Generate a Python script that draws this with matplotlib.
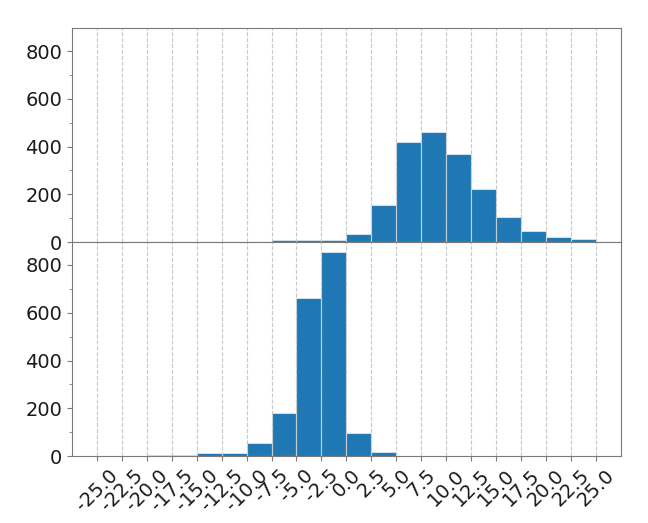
import matplotlib
matplotlib.use("Agg")
import matplotlib.pyplot as plt
import numpy as np
from matplotlib.ticker import MultipleLocator

bin_edges = [-25.0 + 2.5 * i for i in range(21)]
top_counts = [0, 0, 0, 0, 0, 0, 1, 7, 7, 10, 35, 156, 418, 462, 370, 224, 106, 45, 23, 13]
bottom_counts = [0, 0, 4, 3, 14, 13, 56, 180, 660, 853, 96, 17, 0, 0, 0, 0, 0, 0, 0, 0]
tick_values = [-25.0 + 2.5 * i for i in range(21)]
tick_labels = [f"{v:.1f}" for v in tick_values]

fig, (ax1, ax2) = plt.subplots(2, 1, sharex=True, sharey=True, figsize=(6.48, 5.23), dpi=100)
fig.subplots_adjust(left=0.111, right=0.958, top=0.946, bottom=0.128, hspace=0)

centers = [(bin_edges[i] + bin_edges[i + 1]) / 2 for i in range(len(bin_edges) - 1)]
for ax, counts in ((ax1, top_counts), (ax2, bottom_counts)):
    ax.hist(centers, bins=bin_edges, weights=counts, color="#1f77b4",
            edgecolor=(1, 1, 1, 0.55), linewidth=0.8)
    ax.grid(axis="x", linestyle="--", color="#c8c8c8", linewidth=0.8)
    ax.yaxis.set_minor_locator(MultipleLocator(100))
    ax.yaxis.set_major_locator(MultipleLocator(200))
    for s in ax.spines.values():
        s.set_color("#7a7a7a")
    ax.tick_params(colors="#7a7a7a", labelcolor="#1a1a1a", labelsize=14)
    ax.tick_params(which="minor", colors="#7a7a7a")

ax1.tick_params(axis="x", bottom=False, labelbottom=False)
ax2.set_xticks(tick_values)
ax2.set_xticklabels(tick_labels, rotation=45)
ax2.set_ylim(0, 895.6)

fig.savefig("out.png", dpi=100)
